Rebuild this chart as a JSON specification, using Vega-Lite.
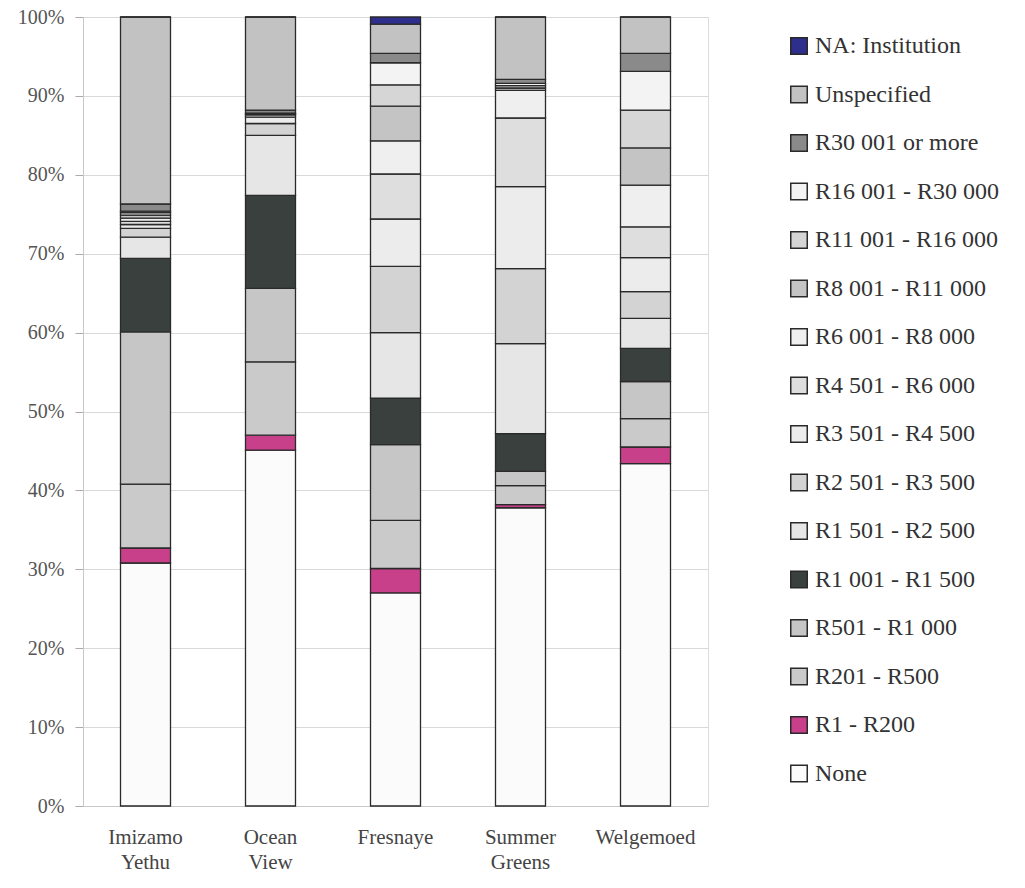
{
  "$schema": "https://vega.github.io/schema/vega-lite/v6.json",
  "width": 625,
  "height": 789,
  "autosize": "none",
  "padding": {"left": 83, "top": 17, "right": 317, "bottom": 82},
  "background": "white",
  "config": {
    "font": "Liberation Serif",
    "view": {"stroke": "#dcdcdc"},
    "legend": {"labelFont": "Liberation Serif", "labelFontSize": 24, "labelLimit": 320}
  },
  "datasets": {
    "rows": [
      {"area": "Imizamo Yethu", "cat": "None", "ord": 0, "pct": 30.8},
      {"area": "Imizamo Yethu", "cat": "R1 - R200", "ord": 1, "pct": 1.9},
      {"area": "Imizamo Yethu", "cat": "R201 - R500", "ord": 2, "pct": 8.1},
      {"area": "Imizamo Yethu", "cat": "R501 - R1 000", "ord": 3, "pct": 19.3},
      {"area": "Imizamo Yethu", "cat": "R1 001 - R1 500", "ord": 4, "pct": 9.3},
      {"area": "Imizamo Yethu", "cat": "R1 501 - R2 500", "ord": 5, "pct": 2.7},
      {"area": "Imizamo Yethu", "cat": "R2 501 - R3 500", "ord": 6, "pct": 1.1},
      {"area": "Imizamo Yethu", "cat": "R3 501 - R4 500", "ord": 7, "pct": 0.5},
      {"area": "Imizamo Yethu", "cat": "R4 501 - R6 000", "ord": 8, "pct": 0.4},
      {"area": "Imizamo Yethu", "cat": "R6 001 - R8 000", "ord": 9, "pct": 0.4},
      {"area": "Imizamo Yethu", "cat": "R8 001 - R11 000", "ord": 10, "pct": 0.4},
      {"area": "Imizamo Yethu", "cat": "R11 001 - R16 000", "ord": 11, "pct": 0.3},
      {"area": "Imizamo Yethu", "cat": "R16 001 - R30 000", "ord": 12, "pct": 0.2},
      {"area": "Imizamo Yethu", "cat": "R30 001 or more", "ord": 13, "pct": 0.9},
      {"area": "Imizamo Yethu", "cat": "Unspecified", "ord": 14, "pct": 23.7},
      {"area": "Imizamo Yethu", "cat": "NA: Institution", "ord": 15, "pct": 0},

      {"area": "Ocean View", "cat": "None", "ord": 0, "pct": 45.1},
      {"area": "Ocean View", "cat": "R1 - R200", "ord": 1, "pct": 1.9},
      {"area": "Ocean View", "cat": "R201 - R500", "ord": 2, "pct": 9.3},
      {"area": "Ocean View", "cat": "R501 - R1 000", "ord": 3, "pct": 9.3},
      {"area": "Ocean View", "cat": "R1 001 - R1 500", "ord": 4, "pct": 11.8},
      {"area": "Ocean View", "cat": "R1 501 - R2 500", "ord": 5, "pct": 7.6},
      {"area": "Ocean View", "cat": "R2 501 - R3 500", "ord": 6, "pct": 1.5},
      {"area": "Ocean View", "cat": "R3 501 - R4 500", "ord": 7, "pct": 0.8},
      {"area": "Ocean View", "cat": "R4 501 - R6 000", "ord": 8, "pct": 0.3},
      {"area": "Ocean View", "cat": "R6 001 - R8 000", "ord": 9, "pct": 0.1},
      {"area": "Ocean View", "cat": "R8 001 - R11 000", "ord": 10, "pct": 0.1},
      {"area": "Ocean View", "cat": "R11 001 - R16 000", "ord": 11, "pct": 0},
      {"area": "Ocean View", "cat": "R16 001 - R30 000", "ord": 12, "pct": 0},
      {"area": "Ocean View", "cat": "R30 001 or more", "ord": 13, "pct": 0.4},
      {"area": "Ocean View", "cat": "Unspecified", "ord": 14, "pct": 11.8},
      {"area": "Ocean View", "cat": "NA: Institution", "ord": 15, "pct": 0},

      {"area": "Fresnaye", "cat": "None", "ord": 0, "pct": 27.0},
      {"area": "Fresnaye", "cat": "R1 - R200", "ord": 1, "pct": 3.1},
      {"area": "Fresnaye", "cat": "R201 - R500", "ord": 2, "pct": 6.1},
      {"area": "Fresnaye", "cat": "R501 - R1 000", "ord": 3, "pct": 9.6},
      {"area": "Fresnaye", "cat": "R1 001 - R1 500", "ord": 4, "pct": 5.9},
      {"area": "Fresnaye", "cat": "R1 501 - R2 500", "ord": 5, "pct": 8.3},
      {"area": "Fresnaye", "cat": "R2 501 - R3 500", "ord": 6, "pct": 8.4},
      {"area": "Fresnaye", "cat": "R3 501 - R4 500", "ord": 7, "pct": 6.0},
      {"area": "Fresnaye", "cat": "R4 501 - R6 000", "ord": 8, "pct": 5.7},
      {"area": "Fresnaye", "cat": "R6 001 - R8 000", "ord": 9, "pct": 4.2},
      {"area": "Fresnaye", "cat": "R8 001 - R11 000", "ord": 10, "pct": 4.4},
      {"area": "Fresnaye", "cat": "R11 001 - R16 000", "ord": 11, "pct": 2.7},
      {"area": "Fresnaye", "cat": "R16 001 - R30 000", "ord": 12, "pct": 2.8},
      {"area": "Fresnaye", "cat": "R30 001 or more", "ord": 13, "pct": 1.2},
      {"area": "Fresnaye", "cat": "Unspecified", "ord": 14, "pct": 3.7},
      {"area": "Fresnaye", "cat": "NA: Institution", "ord": 15, "pct": 0.9},

      {"area": "Summer Greens", "cat": "None", "ord": 0, "pct": 37.8},
      {"area": "Summer Greens", "cat": "R1 - R200", "ord": 1, "pct": 0.4},
      {"area": "Summer Greens", "cat": "R201 - R500", "ord": 2, "pct": 2.4},
      {"area": "Summer Greens", "cat": "R501 - R1 000", "ord": 3, "pct": 1.8},
      {"area": "Summer Greens", "cat": "R1 001 - R1 500", "ord": 4, "pct": 4.8},
      {"area": "Summer Greens", "cat": "R1 501 - R2 500", "ord": 5, "pct": 11.4},
      {"area": "Summer Greens", "cat": "R2 501 - R3 500", "ord": 6, "pct": 9.5},
      {"area": "Summer Greens", "cat": "R3 501 - R4 500", "ord": 7, "pct": 10.4},
      {"area": "Summer Greens", "cat": "R4 501 - R6 000", "ord": 8, "pct": 8.7},
      {"area": "Summer Greens", "cat": "R6 001 - R8 000", "ord": 9, "pct": 3.5},
      {"area": "Summer Greens", "cat": "R8 001 - R11 000", "ord": 10, "pct": 0.3},
      {"area": "Summer Greens", "cat": "R11 001 - R16 000", "ord": 11, "pct": 0.3},
      {"area": "Summer Greens", "cat": "R16 001 - R30 000", "ord": 12, "pct": 0.3},
      {"area": "Summer Greens", "cat": "R30 001 or more", "ord": 13, "pct": 0.5},
      {"area": "Summer Greens", "cat": "Unspecified", "ord": 14, "pct": 7.9},
      {"area": "Summer Greens", "cat": "NA: Institution", "ord": 15, "pct": 0},

      {"area": "Welgemoed", "cat": "None", "ord": 0, "pct": 43.4},
      {"area": "Welgemoed", "cat": "R1 - R200", "ord": 1, "pct": 2.1},
      {"area": "Welgemoed", "cat": "R201 - R500", "ord": 2, "pct": 3.6},
      {"area": "Welgemoed", "cat": "R501 - R1 000", "ord": 3, "pct": 4.7},
      {"area": "Welgemoed", "cat": "R1 001 - R1 500", "ord": 4, "pct": 4.2},
      {"area": "Welgemoed", "cat": "R1 501 - R2 500", "ord": 5, "pct": 3.8},
      {"area": "Welgemoed", "cat": "R2 501 - R3 500", "ord": 6, "pct": 3.4},
      {"area": "Welgemoed", "cat": "R3 501 - R4 500", "ord": 7, "pct": 4.3},
      {"area": "Welgemoed", "cat": "R4 501 - R6 000", "ord": 8, "pct": 3.9},
      {"area": "Welgemoed", "cat": "R6 001 - R8 000", "ord": 9, "pct": 5.3},
      {"area": "Welgemoed", "cat": "R8 001 - R11 000", "ord": 10, "pct": 4.7},
      {"area": "Welgemoed", "cat": "R11 001 - R16 000", "ord": 11, "pct": 4.8},
      {"area": "Welgemoed", "cat": "R16 001 - R30 000", "ord": 12, "pct": 4.9},
      {"area": "Welgemoed", "cat": "R30 001 or more", "ord": 13, "pct": 2.3},
      {"area": "Welgemoed", "cat": "Unspecified", "ord": 14, "pct": 4.6},
      {"area": "Welgemoed", "cat": "NA: Institution", "ord": 15, "pct": 0}
    ]
  },
  "data": {"name": "rows"},
  "mark": {"type": "bar", "stroke": "#2a2a2a", "strokeWidth": 1.3},
  "encoding": {
    "x": {
      "field": "area",
      "type": "nominal",
      "sort": ["Imizamo Yethu", "Ocean View", "Fresnaye", "Summer Greens", "Welgemoed"],
      "scale": {"paddingInner": 0.6, "paddingOuter": 0.3},
      "axis": {
        "title": null,
        "labelAngle": 0,
        "labelExpr": "split(datum.label, ' ')",
        "labelFont": "Liberation Serif",
        "labelFontSize": 21,
        "labelColor": "#444",
        "labelLineHeight": 25,
        "labelPadding": 20,
        "ticks": false,
        "domainColor": "#c8c8c8"
      }
    },
    "y": {
      "field": "pct",
      "type": "quantitative",
      "stack": "normalize",
      "scale": {"domain": [0, 1]},
      "axis": {
        "title": null,
        "format": ".0%",
        "values": [0, 0.1, 0.2, 0.3, 0.4, 0.5, 0.6, 0.7, 0.8, 0.9, 1],
        "labelFont": "Liberation Serif",
        "labelFontSize": 20,
        "labelColor": "#555",
        "labelPadding": 11,
        "tickSize": 8,
        "tickColor": "#aaa",
        "domainColor": "#c8c8c8",
        "gridColor": "#d9d9d9"
      }
    },
    "order": {"field": "ord", "type": "quantitative", "sort": "ascending"},
    "color": {
      "field": "cat",
      "type": "nominal",
      "scale": {
        "domain": ["NA: Institution", "Unspecified", "R30 001 or more", "R16 001 - R30 000", "R11 001 - R16 000", "R8 001 - R11 000", "R6 001 - R8 000", "R4 501 - R6 000", "R3 501 - R4 500", "R2 501 - R3 500", "R1 501 - R2 500", "R1 001 - R1 500", "R501 - R1 000", "R201 - R500", "R1 - R200", "None"],
        "range": ["#2e2e8c", "#c2c2c2", "#8a8a8a", "#f3f3f3", "#d6d6d6", "#c4c4c4", "#efefef", "#dedede", "#ececec", "#d3d3d3", "#e6e6e6", "#3a403e", "#c6c6c6", "#cacaca", "#c8408a", "#fbfbfb"]
      },
      "legend": {
        "title": null,
        "orient": "none",
        "legendX": 704,
        "legendY": 17,
        "padding": 0,
        "symbolType": "square",
        "symbolSize": 272,
        "symbolStrokeColor": "#2a2a2a",
        "symbolStrokeWidth": 1.5,
        "symbolOpacity": 1,
        "labelFont": "Liberation Serif",
        "labelFontSize": 24,
        "labelLimit": 320,
        "labelColor": "#333",
        "labelOffset": 4,
        "rowPadding": 24.5
      }
    }
  }
}
